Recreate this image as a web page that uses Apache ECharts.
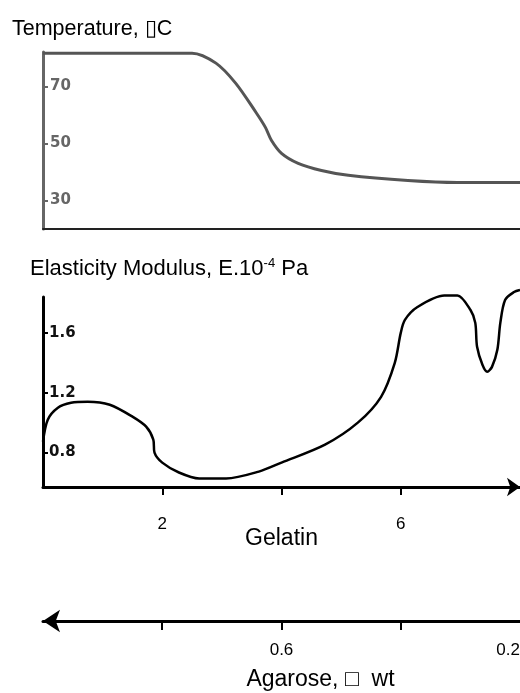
<!DOCTYPE html>
<html>
<head>
<meta charset="utf-8">
<title>Gelatin - agarose gels</title>
<script src="https://cdn.jsdelivr.net/npm/echarts@6/dist/echarts.min.js"></script>
</head>
<body style="margin:0">
<div id="chart" style="width:520px;height:693px"></div>
<script>
// gelatin content (x) and values
var tempGelatin = [0, 1.2, 2.5, 2.9, 3.23, 3.57, 3.73, 3.83, 4.0, 4.28, 4.67, 5.12, 6.12, 6.95, 8.0];
var temperature = [81.6, 81.6, 81.6, 78.1, 71.1, 60.9, 55.6, 51.1, 46.5, 43.0, 40.5, 38.8, 37.0, 36.3, 36.3];

var modGelatin = [0, 0.08, 0.25, 0.47, 0.75, 1.12, 1.5, 1.73, 1.85, 1.87, 2.0, 2.28, 2.62, 3.07, 3.62, 4.0, 4.73, 5.28, 5.67, 5.9, 6.0, 6.07, 6.28, 6.73, 6.95, 7.17, 7.25, 7.28, 7.37, 7.45, 7.53, 7.62, 7.67, 7.75, 7.9, 8.0];
var modulus = [0.873, 1.02, 1.10, 1.133, 1.14, 1.12, 1.04, 0.973, 0.887, 0.80, 0.733, 0.667, 0.627, 0.627, 0.673, 0.733, 0.853, 1.0, 1.173, 1.40, 1.60, 1.687, 1.773, 1.85, 1.85, 1.753, 1.667, 1.507, 1.387, 1.34, 1.373, 1.487, 1.667, 1.82, 1.873, 1.887];

var tempTicks = [30, 50, 70];
var modTicks = [0.8, 1.2, 1.6];
var gelatinTicks = [2, 4, 6];
var gelatinLabels = [2, 6];
var agaroseTicks = [0.8, 0.6, 0.4];
var agaroseLabels = [0.2, 0.6];

function pairs(xs, ys) {
    return xs.map(function (x, i) { return [x, ys[i]]; });
}

var chart = echarts.init(document.getElementById('chart'), null, { renderer: 'canvas' });

var tickFont = { fontFamily: 'DejaVu Sans', fontWeight: 'bold', fontSize: 15 };

var option = {
    animation: false,
    backgroundColor: '#fff',
    title: [
        {
            text: 'Temperature, \u25AFC',
            left: 7, top: 13,
            textStyle: { fontFamily: 'Liberation Sans', fontSize: 21.5, fontWeight: 'normal', color: '#000' }
        },
        {
            text: '{a|Elasticity Modulus, E.10}{s|-4}{a| Pa}',
            left: 25, top: 252,
            textStyle: {
                fontWeight: 'normal',
                rich: {
                    a: { fontFamily: 'Liberation Sans', fontSize: 22, fontWeight: 'normal', lineHeight: 24, color: '#000' },
                    s: { fontFamily: 'Liberation Sans', fontSize: 13, fontWeight: 'normal', lineHeight: 12, verticalAlign: 'top', color: '#000' }
                }
            }
        }
    ],
    grid: [
        { left: 43, right: 0, top: 52, height: 177, outerBoundsMode: 'none' },
        { left: 43, right: 0, top: 297, height: 190, outerBoundsMode: 'none' },
        { left: 43, right: 0, top: 600, height: 21, outerBoundsMode: 'none' }
    ],
    xAxis: [
        {
            gridIndex: 0, type: 'value', min: 0, max: 8,
            splitLine: { show: false },
            axisLine: { lineStyle: { color: '#222', width: 2 } },
            axisTick: { show: false },
            axisLabel: { show: false }
        },
        {
            gridIndex: 1, type: 'value', min: 0, max: 8,
            name: 'Gelatin', nameLocation: 'middle', nameGap: 40, nameMoveOverlap: false,
            nameTextStyle: { fontFamily: 'Liberation Sans', fontSize: 23, color: '#000' },
            splitLine: { show: false },
            axisLine: { symbol: ['none', 'arrow'], symbolSize: [14, 13], lineStyle: { color: '#000', width: 3 } },
            axisTick: { customValues: gelatinTicks, length: 8, lineStyle: { color: '#000', width: 2 } },
            axisLabel: {
                customValues: gelatinLabels, margin: 29,
                fontFamily: 'Liberation Sans', fontSize: 17, color: '#000'
            }
        },
        {
            gridIndex: 2, type: 'value', min: 0.2, max: 1.0, inverse: true,
            name: 'Agarose, \u25A1  wt', nameLocation: 'middle', nameGap: 47, nameMoveOverlap: false,
            nameTextStyle: { fontFamily: 'Liberation Sans', fontSize: 23, color: '#000', padding: [0, 0, 0, 78] },
            splitLine: { show: false },
            axisLine: { symbol: ['arrow', 'none'], symbolSize: [17, 17], lineStyle: { color: '#000', width: 3 } },
            axisTick: { customValues: agaroseTicks, length: 9, lineStyle: { color: '#000', width: 2 } },
            axisLabel: {
                customValues: agaroseLabels, margin: 21, alignMinLabel: 'right',
                formatter: function (v) { return v.toFixed(1); },
                fontFamily: 'Liberation Sans', fontSize: 17, color: '#000'
            }
        }
    ],
    yAxis: [
        {
            gridIndex: 0, type: 'value', min: 20, max: 82,
            splitLine: { show: false },
            axisLine: { lineStyle: { color: '#666', width: 3 } },
            axisTick: { customValues: tempTicks, inside: true, length: 5, lineStyle: { color: '#666', width: 2 } },
            axisLabel: Object.assign({ customValues: tempTicks, inside: true, margin: 7, color: '#666' }, tickFont)
        },
        {
            gridIndex: 1, type: 'value', min: 0.57, max: 1.84,
            splitLine: { show: false },
            axisLine: { lineStyle: { color: '#000', width: 3 } },
            axisTick: { customValues: modTicks, inside: true, length: 5, lineStyle: { color: '#000', width: 2 } },
            axisLabel: Object.assign({
                customValues: modTicks, inside: true, margin: 6, color: '#111',
                formatter: function (v) { return v.toFixed(1); }
            }, tickFont)
        },
        { gridIndex: 2, type: 'value', show: false, min: 0, max: 1 }
    ],
    series: [
        {
            type: 'line', xAxisIndex: 0, yAxisIndex: 0,
            data: pairs(tempGelatin, temperature),
            smooth: 0.3, showSymbol: false, clip: false,
            lineStyle: { color: '#555', width: 3 }
        },
        {
            type: 'line', xAxisIndex: 1, yAxisIndex: 1,
            data: pairs(modGelatin, modulus),
            smooth: 0.3, showSymbol: false, clip: false,
            lineStyle: { color: '#000', width: 2.5 }
        }
    ]
};

chart.setOption(option);
window.addEventListener('resize', chart.resize);
</script>
</body>
</html>
